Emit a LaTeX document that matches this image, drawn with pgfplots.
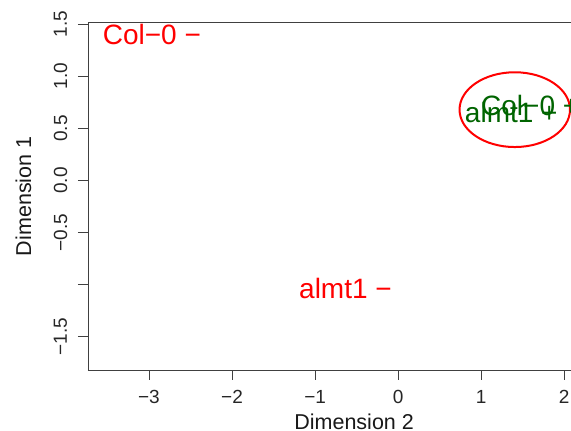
\documentclass[border=0pt]{standalone}
\usepackage{fontspec}
\setmainfont{Liberation Sans}
\usepackage{pgfplots}
\pgfplotsset{compat=1.18}
\definecolor{rgreen}{RGB}{0,100,0}
\begin{document}
\begin{tikzpicture}
\begin{axis}[
  scale only axis, width=483pt, height=347.3pt,
  xmin=-3.734, xmax=2.081, ymin=-1.82, ymax=1.515,
  axis x line=box, axis y line*=left,
  tick pos=left, tick align=outside, major tick length=10pt,
  xtick={-3,-2,-1,0,1,2}, xticklabels={−3,−2,−1,0,1,2},
  ytick={-1.5,-1,-0.5,0,0.5,1,1.5}, yticklabels={−1.5,,−0.5,0.0,0.5,1.0,1.5},
  axis line style={black!75, line width=0.8pt},
  tick style={black!75, line width=0.8pt},
  ticklabel style={font=\fontsize{19}{22}\selectfont, text=black!85},
  xticklabel style={anchor=center},
  yticklabel style={rotate=90, anchor=center},
  xticklabel shift=16.8pt,
  yticklabel shift=17.5pt,
  label style={font=\fontsize{21.5}{25}\selectfont, text=black!90},
  xlabel={Dimension 2}, ylabel={Dimension 1},
  xlabel style={at={([yshift=-52pt]rel axis cs:0.551,0)}, anchor=center},
  ylabel style={at={([xshift=-64.5pt]rel axis cs:0,0.5)}, anchor=center},
  clip=false,
  every node near coord/.append style={font=\fontsize{28}{32}\selectfont, anchor=center},
]
\coordinate (sw) at (rel axis cs:0,0);
\coordinate (ne) at (rel axis cs:1,1);
\draw[red, line width=2pt] (axis cs:1.404,0.680) ellipse [x radius=0.665, y radius=0.359];
\addplot[only marks, mark=none, nodes near coords, point meta=explicit symbolic,
  every node near coord/.append style={text=red}]
  coordinates {(-2.965,1.398) [Col−0 −] (-0.634,-1.04) [almt1 −]};
\addplot[only marks, mark=none, nodes near coords, point meta=explicit symbolic,
  every node near coord/.append style={text=rgreen}]
  coordinates {(1.59,0.723) [Col−0 +] (1.362,0.655) [almt1 +]};
\end{axis}
\pgfresetboundingbox
\path[use as bounding box] ([shift={(-88pt,-61pt)}]sw) rectangle ([shift={(0pt,22.7pt)}]ne);
\end{tikzpicture}
\end{document}
